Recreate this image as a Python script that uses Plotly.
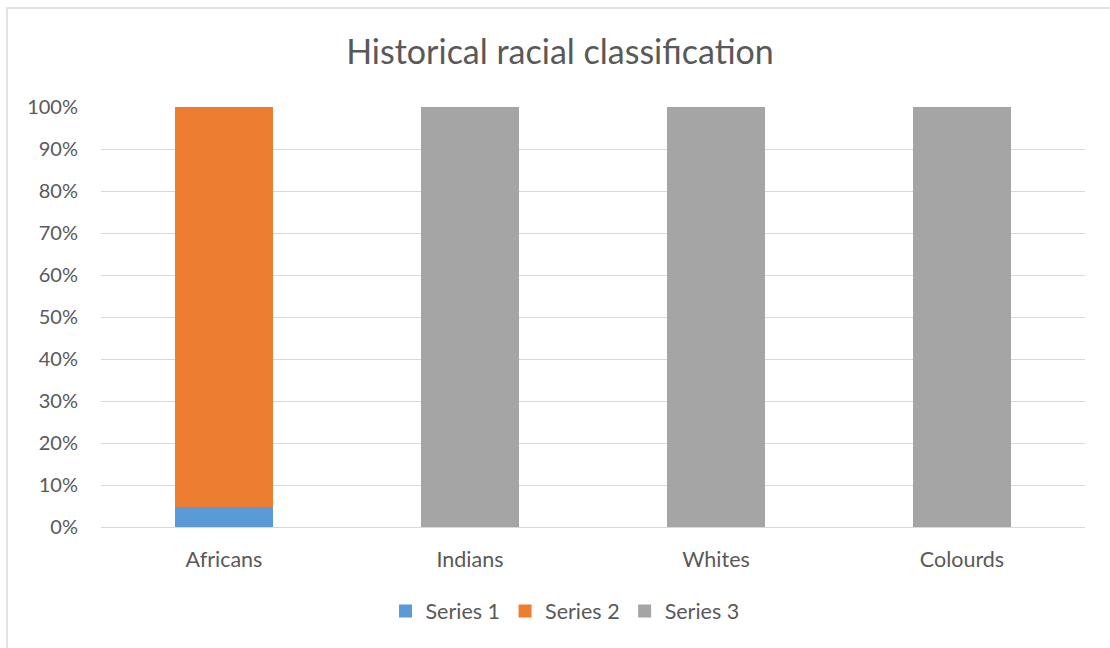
import plotly.graph_objects as go

# Category labels and share of each series (percent of the total)
categories = ["Africans", "Indians", "Whites", "Colourds"]
series_1 = [4.8, 0, 0, 0]
series_2 = [95.2, 0, 0, 0]
series_3 = [0, 100, 100, 100]

series_names = ["Series 1", "Series 2", "Series 3"]
series_colors = ["#5b9bd5", "#ed7d31", "#a5a5a5"]

text_color = "#595959"
font_family = "Lato, 'Open Sans', sans-serif"

fig = go.Figure()
for name, values, color in zip(series_names, [series_1, series_2, series_3], series_colors):
    fig.add_trace(go.Bar(
        x=categories,
        y=values,
        name=name,
        legendgroup=name,
        showlegend=False,
        marker=dict(color=color, line=dict(width=0)),
    ))
    # Legend entry with a larger square swatch
    fig.add_trace(go.Scatter(
        x=[None], y=[None],
        mode="markers",
        name=name,
        legendgroup=name,
        marker=dict(symbol="square", size=13, color=color),
        hoverinfo="skip",
    ))

# Outer chart border (left and top edges visible)
fig.add_shape(
    type="rect", xref="paper", yref="paper",
    x0=(7 - 101) / 984, x1=(1120 - 101) / 984,
    y0=(527 - 660) / 420, y1=(527 - 8) / 420,
    line=dict(color="#d9d9d9", width=1.5), fillcolor="rgba(0,0,0,0)",
    layer="below",
)

fig.update_layout(
    barmode="stack",
    bargap=0.6,
    width=1110,
    height=648,
    margin=dict(l=101, r=25, t=107, b=121, autoexpand=False),
    paper_bgcolor="white",
    plot_bgcolor="white",
    font=dict(family=font_family, color=text_color, size=20),
    title=dict(
        text="Historical racial classification",
        x=560 / 1110, xanchor="center",
        y=1 - 52 / 648, yanchor="middle",
        font=dict(size=34, color=text_color, family=font_family),
    ),
    xaxis=dict(
        showgrid=False,
        showline=False,
        ticks="",
        ticklabelstandoff=17,
        tickfont=dict(size=21.5, color=text_color),
    ),
    yaxis=dict(
        range=[0, 100],
        dtick=10,
        ticksuffix="%",
        showgrid=True,
        gridcolor="#d9d9d9",
        gridwidth=1,
        zeroline=True,
        zerolinecolor="#d9d9d9",
        zerolinewidth=1,
        showline=False,
        ticks="",
        ticklabelstandoff=22,
        tickfont=dict(size=20, color=text_color),
        fixedrange=True,
    ),
    legend=dict(
        orientation="h",
        x=(565 - 101) / 984, xanchor="center",
        y=(527 - 611) / 420, yanchor="middle",
        font=dict(size=21.5, color=text_color),
        traceorder="normal",
        itemwidth=30,
    ),
    showlegend=True,
)

fig.write_html("out.html")
